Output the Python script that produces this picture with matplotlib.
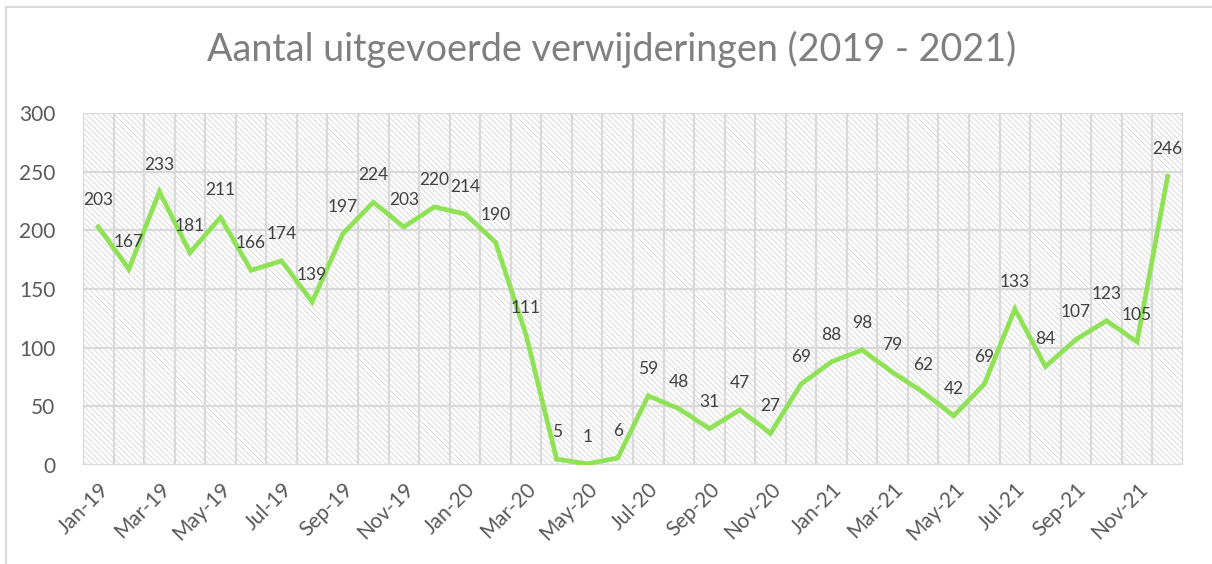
import matplotlib.pyplot as plt
from matplotlib.patches import Rectangle
import numpy as np

## data
months = ['Jan', 'Feb', 'Mar', 'Apr', 'May', 'Jun', 'Jul', 'Aug', 'Sep', 'Oct', 'Nov', 'Dec']
years = ['19', '20', '21']
labels = [f'{m}-{y}' for y in years for m in months]
values = [203, 167, 233, 181, 211, 166, 174, 139, 197, 224, 203, 220,
          214, 190, 111, 5, 1, 6, 59, 48, 31, 47, 27, 69,
          88, 98, 79, 62, 42, 69, 133, 84, 107, 123, 105, 246]
y_ticks = [0, 50, 100, 150, 200, 250, 300]

# ------------------------------------------------------------------------------------------------
## style
plt.rcParams['font.family'] = ['Lato', 'DejaVu Sans']
plt.rcParams['hatch.linewidth'] = 0.7
plt.rcParams['hatch.color'] = '#dadada'
text_grey = '#595959'
grid_grey = '#d9d9d9'
line_green = '#8fe256'

fig = plt.figure(figsize=(12.12, 5.64), dpi=100)
ax = fig.add_axes([0.0685, 0.1755, 0.9075, 0.624])

# frame of the whole chart (only left and top are visible in the reference)
fig.patches.append(Rectangle((6 / 1212, -0.05), 1.1, 1 - 7 / 564 + 0.05, transform=fig.transFigure,
                             fill=False, edgecolor='#d9d9d9', linewidth=1.5))

x = np.arange(len(values))

# hatched background of the plot area
ax.add_patch(Rectangle((0, 0), 1, 1, transform=ax.transAxes, facecolor='white',
                       edgecolor='#dadada', hatch='\\' * 6, linewidth=0, zorder=0))

# grid lines
for yv in y_ticks:
    ax.axhline(yv, color=grid_grey, linewidth=1.6, zorder=1)
for xb in np.arange(-0.5, len(values), 1):
    ax.axvline(xb, color=grid_grey, linewidth=1.6, zorder=1)

ax.plot(x, values, color=line_green, linewidth=3.4, solid_joinstyle='miter', zorder=3)

# data labels above the points
for xi, v in zip(x, values):
    ax.annotate(str(v), (xi, v), xytext=(0, 27), textcoords='offset pixels',
                ha='center', va='center', fontsize=12.5, color='#404040', zorder=4)

ax.set_xlim(-0.5, len(values) - 0.5)
ax.set_ylim(0, 300)
ax.set_yticks(y_ticks)
ax.set_xticks(x[::2])
ax.set_xticklabels(labels[::2], rotation=45, ha='right', rotation_mode='anchor')
ax.tick_params(axis='both', length=0, labelsize=15, labelcolor=text_grey)
ax.tick_params(axis='y', pad=20)
ax.tick_params(axis='x', pad=10)
for s in ax.spines.values():
    s.set_visible(False)

fig.text(0.505, 0.912, 'Aantal uitgevoerde verwijderingen (2019 - 2021)', ha='center', va='center',
         fontsize=27.2, color='#7f7f7f')

fig.savefig('out.png', dpi=100)
